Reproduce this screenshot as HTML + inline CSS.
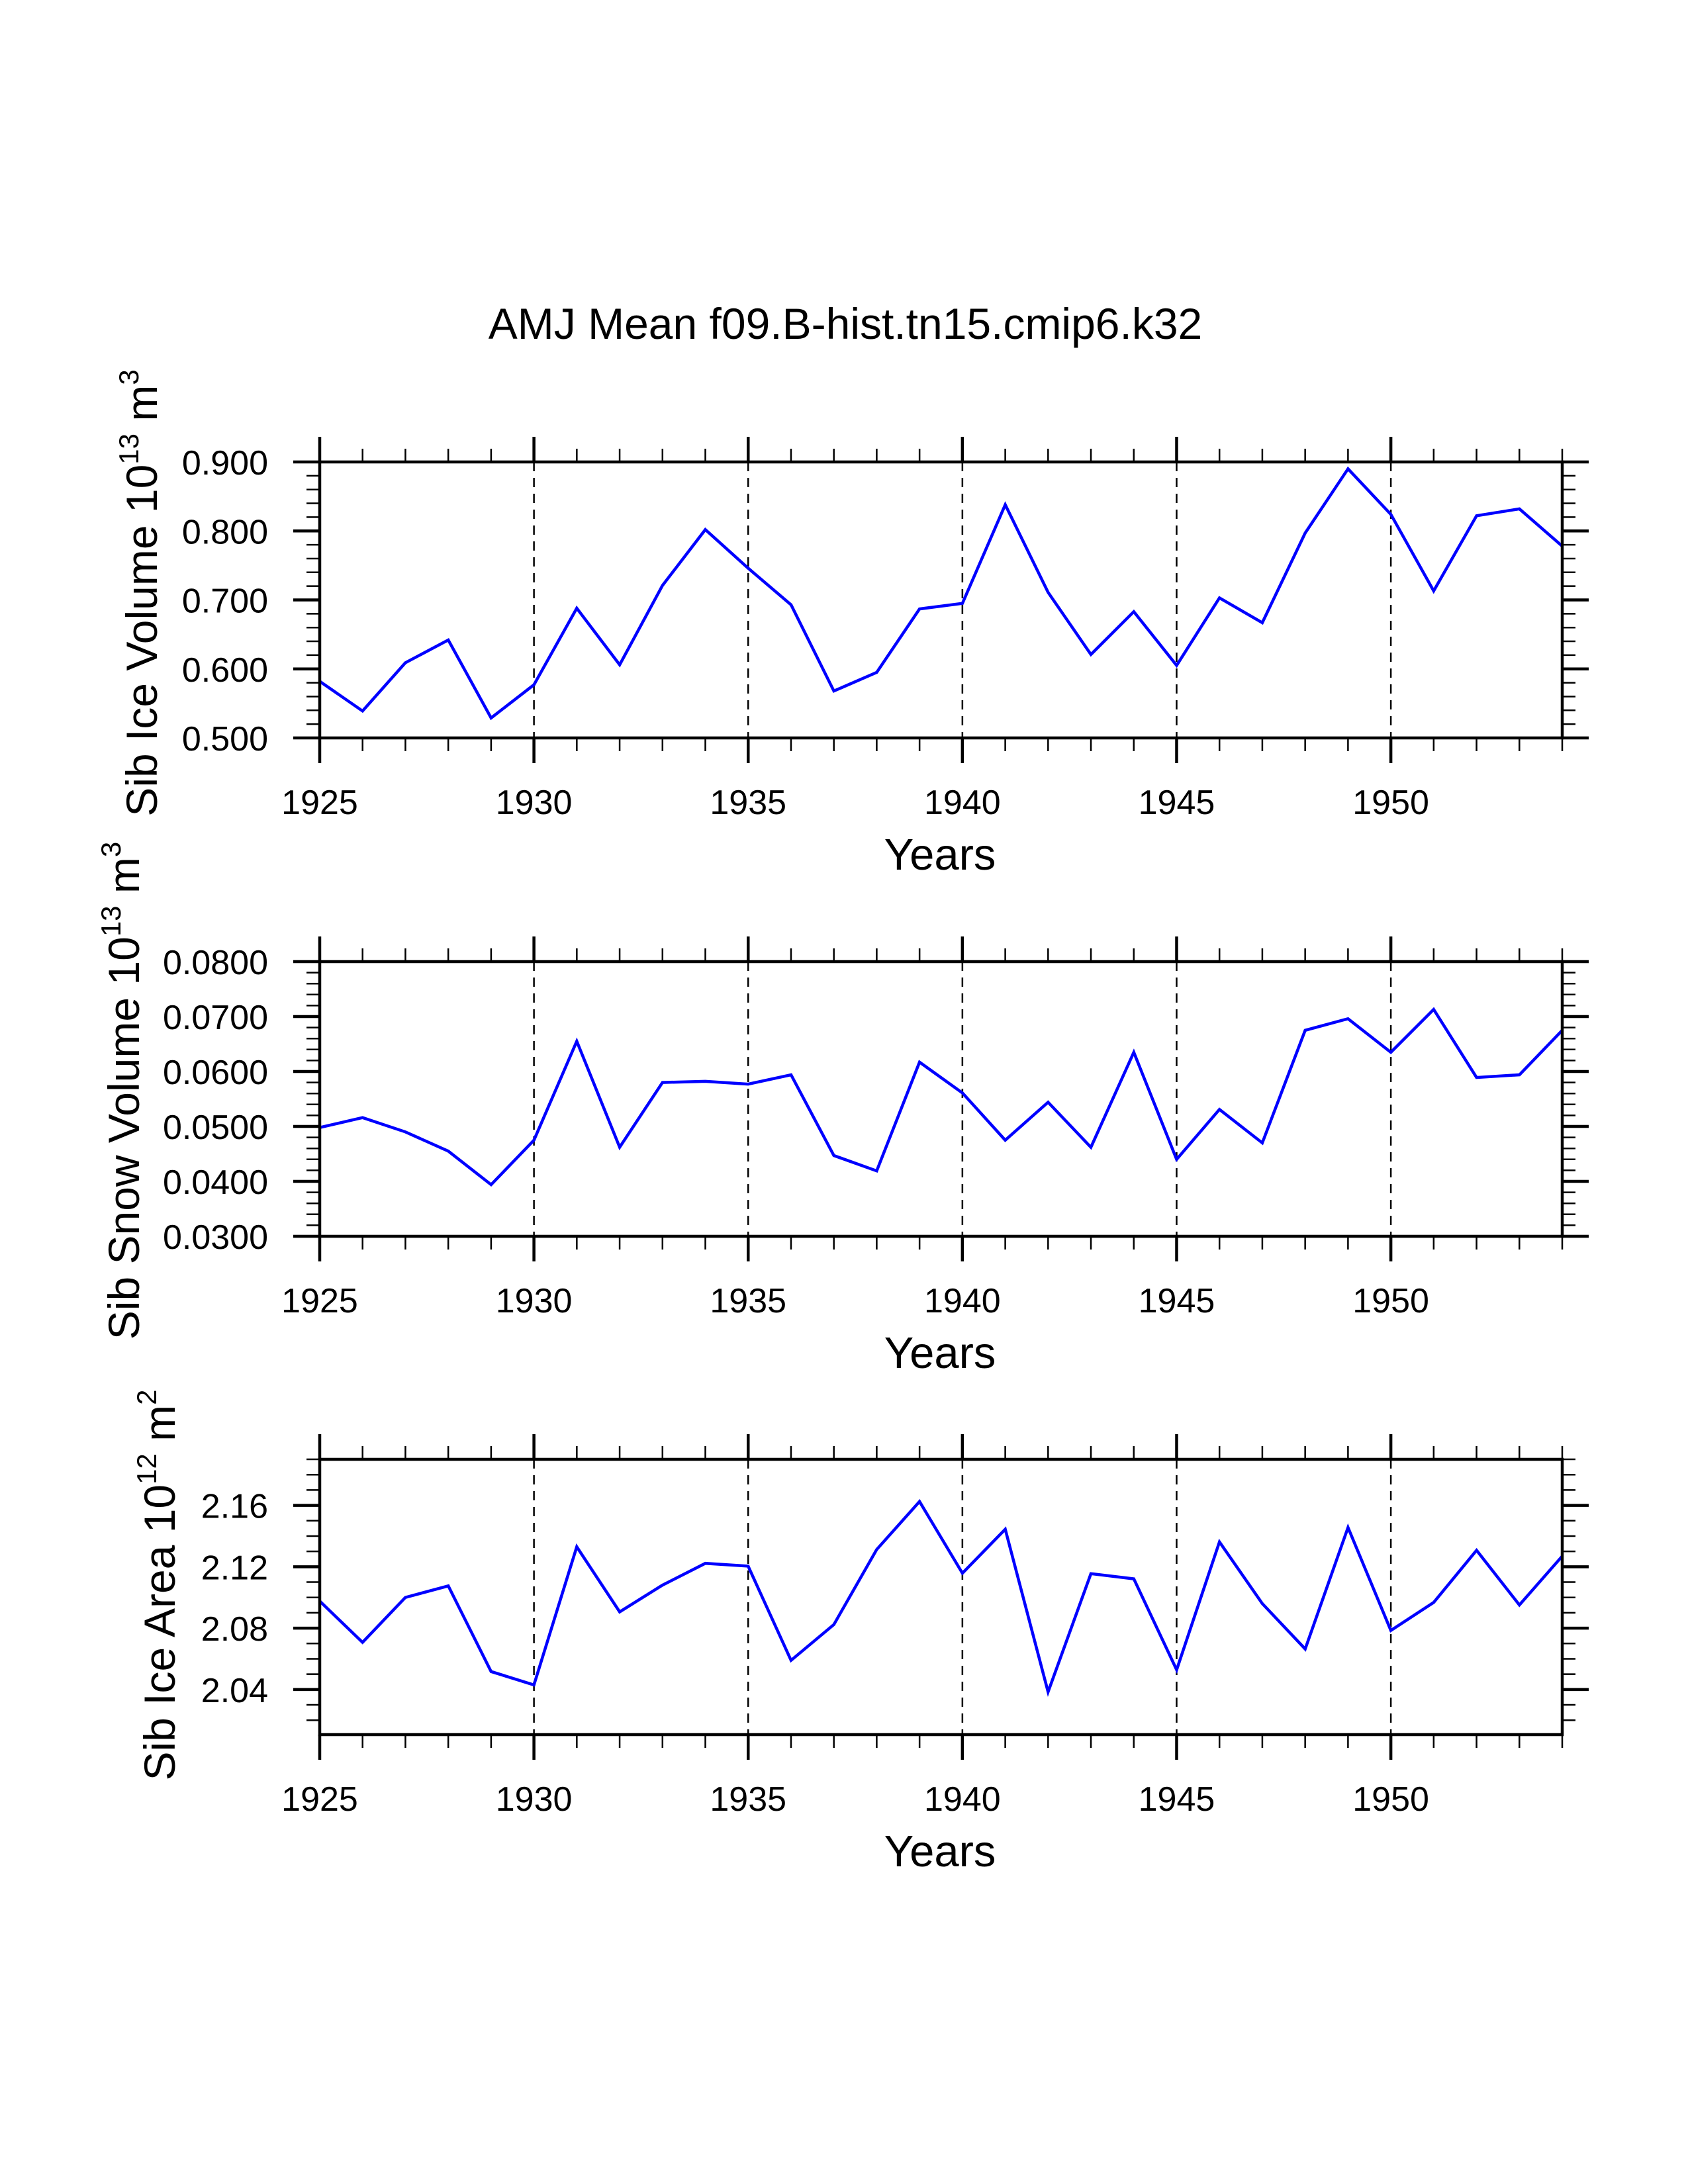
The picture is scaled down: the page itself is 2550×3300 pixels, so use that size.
<!DOCTYPE html>
<html><head><meta charset="utf-8"><style>
html,body{margin:0;padding:0;background:#fff;}
svg{display:block;font-family:"Liberation Sans",Arial,sans-serif;}
</style></head><body>
<svg id="chart" width="2550" height="3300" viewBox="0 0 2550 3300" xmlns="http://www.w3.org/2000/svg">
<rect width="2550" height="3300" fill="#fff"/>
<text x="1277" y="512" font-size="66" text-anchor="middle">AMJ Mean f09.B-hist.tn15.cmip6.k32</text>
</svg>
<script>
const years = [1925,1926,1927,1928,1929,1930,1931,1932,1933,1934,1935,1936,1937,1938,1939,1940,1941,1942,1943,1944,1945,1946,1947,1948,1949,1950,1951,1952,1953,1954];
const iceVolume = [0.582,0.539,0.609,0.642,0.529,0.577,0.688,0.606,0.721,0.802,0.746,0.693,0.568,0.595,0.687,0.695,0.838,0.711,0.621,0.683,0.605,0.703,0.667,0.797,0.890,0.824,0.713,0.822,0.832,0.778];
const snowVolume = [0.0498,0.0516,0.0490,0.0455,0.0394,0.0475,0.0655,0.0462,0.0580,0.0582,0.0577,0.0594,0.0447,0.0419,0.0617,0.0561,0.0475,0.0544,0.0462,0.0635,0.0440,0.0531,0.0470,0.0675,0.0696,0.0635,0.0713,0.0589,0.0594,0.0675];
const iceArea = [2.0976,2.0707,2.100,2.1075,2.0517,2.043,2.133,2.0906,2.108,2.1222,2.1204,2.059,2.0823,2.1312,2.1625,2.1158,2.1444,2.0384,2.1155,2.1121,2.0528,2.1362,2.096,2.0664,2.1456,2.0785,2.0967,2.1307,2.0951,2.1269];
const xTickLabels = ["1925","1930","1935","1940","1945","1950"];
const iceVolTicks = ["0.500","0.600","0.700","0.800","0.900"];
const snowVolTicks = ["0.0300","0.0400","0.0500","0.0600","0.0700","0.0800"];
const iceAreaTicks = ["2.04","2.08","2.12","2.16"];

const NS="http://www.w3.org/2000/svg";
const svg=document.getElementById('chart');
function mk(tag,attrs,parent){const e=document.createElementNS(NS,tag);for(const k in attrs)e.setAttribute(k,attrs[k]);(parent||svg).appendChild(e);return e;}

const X0=483, X1=2360, XMIN=1925, XMAX=1954;
function xs(v){return X0+(v-XMIN)/(XMAX-XMIN)*(X1-X0);}

const panels=[
 {name:'ice-volume',top:698,bot:1115,ymin:0.5,ymax:0.9,data:iceVolume,ticks:iceVolTicks,minor:0.02,title:'Sib Ice Volume 10',sup:'13',unit:' m',usup:'3',tx:213,cy:896},
 {name:'snow-volume',top:1453,bot:1868,ymin:0.03,ymax:0.08,data:snowVolume,ticks:snowVolTicks,minor:0.002,title:'Sib Snow Volume 10',sup:'13',unit:' m',usup:'3',tx:186,cy:1648},
 {name:'ice-area',top:2205,bot:2621,ymin:2.0106,ymax:2.19,data:iceArea,ticks:iceAreaTicks,minor:0.01,title:'Sib Ice Area 10',sup:'12',unit:' m',usup:'2',tx:240,cy:2395}
];

panels.forEach(p=>{
  const g=mk('g',{});
  
  
  const ys=v=>p.bot-(v-p.ymin)/(p.ymax-p.ymin)*(p.bot-p.top);
  xTickLabels.forEach(l=>{const v=+l; if(v>XMIN&&v<XMAX){
    const gl=mk('line',{x1:xs(v),x2:xs(v),y1:p.top,y2:p.bot,stroke:'#000','stroke-width':2.5,'stroke-dasharray':'14,10'},g);
    
    
  }});
  const pts=years.map((y,i)=>xs(y).toFixed(1)+','+ys(p.data[i]).toFixed(1)).join(' ');
  const pl=mk('polyline',{points:pts,fill:'none',stroke:'#0000ff','stroke-width':4.5,'stroke-linejoin':'miter'},g);
  
  
  const fr=mk('rect',{x:X0,y:p.top,width:X1-X0,height:p.bot-p.top,fill:'none',stroke:'#000','stroke-width':4.5},g);
  
  
  for(let y=XMIN;y<=XMAX;y++){
    const major=(y%5===0); const L=major?38:20; const w=major?4.5:2.5;
    mk('line',{x1:xs(y),x2:xs(y),y1:p.top,y2:p.top-L,stroke:'#000','stroke-width':w},g);
    mk('line',{x1:xs(y),x2:xs(y),y1:p.bot,y2:p.bot+L,stroke:'#000','stroke-width':w},g);
  }
  xTickLabels.forEach(l=>{
    const t=mk('text',{x:xs(+l),y:p.bot+115,'font-size':52,'text-anchor':'middle'},g);
    t.textContent=l;
    
    
  });
  const n=Math.round((p.ymax-p.ymin)/p.minor)+2;
  const start=Math.ceil(p.ymin/p.minor-1e-6)*p.minor;
  for(let k=0;k<n;k++){const v=start+k*p.minor; if(v>p.ymax+1e-9)break;
    const yy=ys(v);
    mk('line',{x1:X0,x2:X0-20,y1:yy,y2:yy,stroke:'#000','stroke-width':2.5},g);
    mk('line',{x1:X1,x2:X1+20,y1:yy,y2:yy,stroke:'#000','stroke-width':2.5},g);
  }
  p.ticks.forEach(l=>{
    const yy=ys(+l);
    mk('line',{x1:X0,x2:X0-40,y1:yy,y2:yy,stroke:'#000','stroke-width':4.5},g);
    mk('line',{x1:X1,x2:X1+40,y1:yy,y2:yy,stroke:'#000','stroke-width':4.5},g);
    const t=mk('text',{x:405,y:yy+19,'font-size':52,'text-anchor':'end'},g);
    t.textContent=l;
    
    
  });
  const xt=mk('text',{x:1420,y:p.bot+199,'font-size':67,'text-anchor':'middle'},g);
  xt.textContent='Years';
  
  
  const yt=mk('text',{x:0,y:0,'font-size':66,'text-anchor':'middle',transform:`translate(${p.tx+24},${p.cy}) rotate(-90)`},g);
  
  
  const a=document.createElementNS(NS,'tspan');a.textContent=p.title;yt.appendChild(a);
  const b=document.createElementNS(NS,'tspan');b.setAttribute('dy','-28');b.setAttribute('font-size','42');b.textContent=p.sup;yt.appendChild(b);
  const c=document.createElementNS(NS,'tspan');c.setAttribute('dy','28');c.textContent=p.unit;yt.appendChild(c);
  const d=document.createElementNS(NS,'tspan');d.setAttribute('dy','-28');d.setAttribute('font-size','42');d.textContent=p.usup;yt.appendChild(d);
});
</script>
</body></html>
